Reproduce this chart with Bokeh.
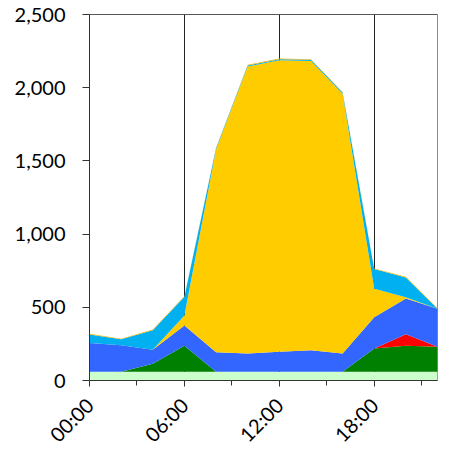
import math
from bokeh.plotting import figure
from bokeh.models import ColumnDataSource, FixedTicker, Range1d, Span
from bokeh.embed import file_html
from bokeh.resources import INLINE

hours = [0, 2, 4, 6, 8, 10, 12, 14, 16, 18, 20, 22]
tick_labels = {0: "00:00", 6: "06:00", 12: "12:00", 18: "18:00"}

base = [60, 60, 60, 60, 60, 60, 60, 60, 60, 60, 60, 60]
green = [0, 0, 54, 177, 0, 0, 0, 0, 0, 159, 177, 170]
red = [0, 0, 0, 0, 0, 0, 0, 0, 0, 0, 79, 0]
blue = [197, 181, 96, 139, 133, 124, 136, 147, 124, 213, 244, 260]
yellow = [0, 0, 0, 68, 1385, 1960, 1991, 1976, 1775, 194, 9, 0]
cyan = [58, 40, 134, 128, 8, 8, 8, 8, 8, 135, 135, 0]
top = [4, 4, 4, 4, 4, 4, 4, 4, 4, 4, 4, 4]

names = ["base", "green", "red", "blue", "yellow", "cyan", "top"]
colors = ["#ccffcc", "#008000", "#ff0000", "#3366ff", "#ffcc00", "#00b0f0", "#f0b800"]

src = ColumnDataSource(dict(x=hours, base=base, green=green, red=red, blue=blue,
                            yellow=yellow, cyan=cyan, top=top))

p = figure(width=451, height=458, output_backend="svg", toolbar_location=None,
           x_range=Range1d(0, 22), y_range=Range1d(0, 2500),
           min_border_left=89, min_border_top=14, min_border_right=14, min_border_bottom=78)

p.varea_stack(stackers=names, x="x", color=colors, source=src)

p.outline_line_color = "#8c8c8c"
p.outline_line_width = 1
p.add_layout(Span(location=2500, dimension="width", line_color="#222222", line_width=1))

p.ygrid.grid_line_color = None
p.xgrid.grid_line_color = "#222222"
p.xgrid.grid_line_width = 1
p.xgrid.ticker = FixedTicker(ticks=[6, 12, 18])

p.xaxis.ticker = FixedTicker(ticks=[0, 6, 12, 18], minor_ticks=[3, 9, 15, 21])
p.xaxis.major_label_overrides = tick_labels
p.xaxis.major_label_orientation = math.pi / 4
p.yaxis.ticker = FixedTicker(ticks=[0, 500, 1000, 1500, 2000, 2500])
p.yaxis.formatter.use_scientific = False
p.yaxis.major_label_overrides = {0: "0", 500: "500", 1000: "1,000", 1500: "1,500",
                                 2000: "2,000", 2500: "2,500"}

for ax in (p.xaxis[0], p.yaxis[0]):
    ax.axis_line_color = "#333333"
    ax.major_tick_line_color = "#333333"
    ax.minor_tick_line_color = "#333333"
    ax.major_tick_in = 0
    ax.major_tick_out = 6
    ax.minor_tick_in = 0
    ax.minor_tick_out = 5
    ax.major_label_text_font = "Lato"
    ax.major_label_text_font_size = "20px"
    ax.major_label_text_color = "#000000"
p.yaxis.major_tick_out = 7
p.yaxis.major_label_standoff = 17
p.xaxis.major_label_standoff = 15
p.yaxis.minor_tick_line_color = None

open("out.html", "w").write(file_html(p, INLINE))
